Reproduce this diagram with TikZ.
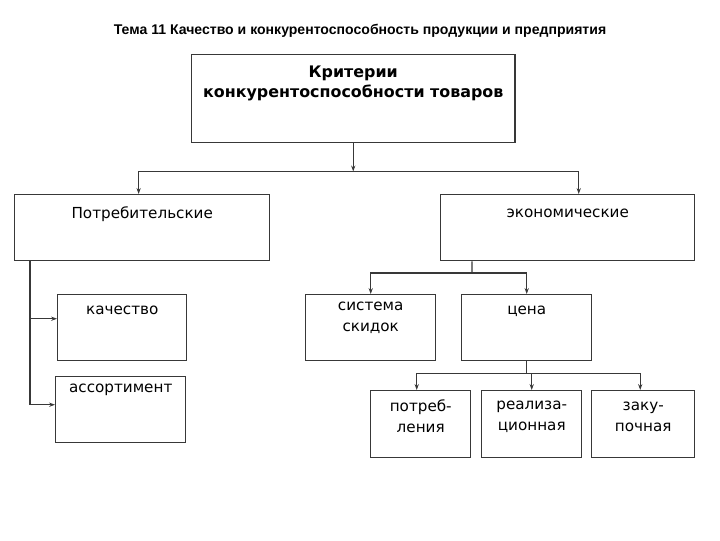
\documentclass[tikz,border=0pt]{standalone}
\usepackage{fontspec}
\setmainfont{DejaVu Sans}
\newfontfamily\titlefont{Liberation Sans}
\usetikzlibrary{positioning,arrows.meta}
\newcommand\captop{\vphantom{Б}}

\begin{document}
\begin{tikzpicture}[x=0.025cm,y=-0.025cm,
	box/.style={rectangle,draw=black!78,line width=1pt,anchor=north west,inner sep=0pt},
	lbl/.style={align=center,inner sep=0pt,anchor=north,font=\fontsize{10.8}{15}\selectfont},
	conn/.style={draw=black!78,line width=0.9pt},
	arr/.style={conn,-{Stealth[length=4.2pt,width=3pt]}}]
			\useasboundingbox (0,0) rectangle (720,540);
			\node[font=\titlefont\bfseries\fontsize{10}{12}\selectfont](title) at (360,31) {Тема 11 Качество и конкурентоспособность продукции и предприятия};
			% boxes
			\node[box,minimum width=8.075cm,minimum height=2.2cm](crit) at (191,54) {};
			\node[box,minimum width=6.375cm,minimum height=1.65cm](potr) at (14,194) {};
			\node[box,minimum width=6.35cm,minimum height=1.65cm](econ) at (440,194) {};
			\node[box,minimum width=3.225cm,minimum height=1.65cm](kach) at (57,294) {};
			\node[box,minimum width=3.25cm,minimum height=1.65cm](assort) at (55,376) {};
			\node[box,minimum width=3.25cm,minimum height=1.65cm](skid) at (305,294) {};
			\node[box,minimum width=3.25cm,minimum height=1.65cm](cena) at (461,294) {};
			\node[box,minimum width=2.5cm,minimum height=1.675cm](cpotr) at (370,390) {};
			\node[box,minimum width=2.5cm,minimum height=1.675cm](creal) at (481,390) {};
			\node[box,minimum width=2.575cm,minimum height=1.675cm](czak) at (591,390) {};
			% texts
			\node[lbl,font=\bfseries\fontsize{11.3}{14.2}\selectfont,below=0.3cm of crit.north](tcrit) {\captop Критерии\\конкурентоспособности товаров};
			\node[lbl,below=0.3cm of potr.north](tpotr) {\captop Потребительские};
			\node[lbl,below=0.3cm of econ.north](tecon) {\captop экономические};
			\node[lbl,below=0.225cm of kach.north](tkach) {\captop качество};
			\node[lbl,below=0.125cm of assort.north](tassort) {\captop ассортимент};
			\node[lbl,below=0.125cm of skid.north](tskid) {\captop система\\скидок};
			\node[lbl,below=0.225cm of cena.north](tcena) {\captop цена};
			\node[lbl,below=0.225cm of cpotr.north](tcpotr) {\captop потреб-\\ления};
			\node[lbl,below=0.2cm of creal.north](tcreal) {\captop реализа-\\ционная};
			\node[lbl,below=0.225cm of czak.north](tczak) {\captop заку-\\почная};
			% connectors
			\coordinate[below=0.7cm of crit.south] (j1);
			\coordinate (j2) at (472,273);
			\coordinate[below=0.3cm of cena.south] (j3);
			\coordinate (k1) at ([xshift=0.4cm]potr.south west);
			\coordinate (k2) at ([yshift=0.225cm]kach.west);
			\draw[arr] (crit.south) -- (j1);
			\draw[arr] (j1) -| ([xshift=-0.09cm]potr.north);
			\draw[arr] (j1) -| ([xshift=0.275cm]econ.north);
			\draw[arr] (k1) |- ([yshift=0.125cm]assort.west);
			\draw[arr] (k1 |- k2) -- (k2);
			\draw[conn] ([xshift=0.8cm]econ.south west) -- (j2);
			\draw[arr] (j2) -| (skid.north);
			\draw[arr] (j2) -| (cena.north);
			\draw[conn] (cena.south) -- (j3);
			\draw[arr] (j3) -| ([xshift=-0.1cm]cpotr.north);
			\draw[arr] (j3) -- (creal.north |- j3) -- (creal.north);
			\draw[arr] (j3) -| ([xshift=-0.075cm]czak.north);
		\end{tikzpicture}
\end{document}
